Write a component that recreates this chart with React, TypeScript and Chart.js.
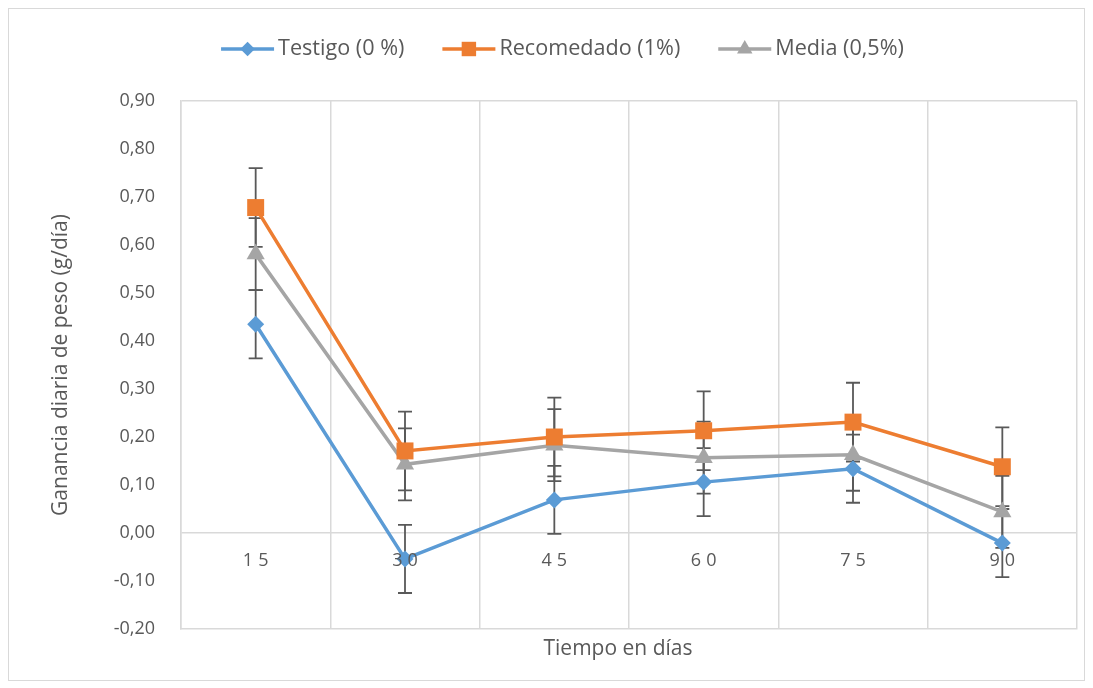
import React, { useEffect, useRef } from 'react';
import { Chart, registerables } from 'chart.js';

Chart.register(...registerables);

const categories = ['15', '30', '45', '60', '75', '90'];
const seriesNames = ['Testigo (0 %)', 'Recomedado (1%)', 'Media (0,5%)'];
const testigo = [0.435, -0.054, 0.069, 0.106, 0.134, -0.021];
const recomendado = [0.678, 0.171, 0.2, 0.213, 0.231, 0.138];
const media = [0.581, 0.143, 0.183, 0.157, 0.163, 0.044];
const errTestigo = [0.071, 0.071, 0.071, 0.071, 0.071, 0.071];
const errRecomendado = [0.082, 0.082, 0.082, 0.082, 0.082, 0.082];
const errMedia = [0.075, 0.075, 0.075, 0.075, 0.075, 0.075];
const yMin = -0.2;
const yMax = 0.9;
const yStep = 0.1;
const yTitle = 'Ganancia diaria de peso (g/día)';
const xTitle = 'Tiempo en días';

const FONT = '"Open Sans", "Liberation Sans", sans-serif';
const TEXT = '#595959';
const GRID = '#D9D9D9';
const colors = ['#5B9BD5', '#ED7D31', '#A5A5A5'];
const shapes = ['rectRot', 'rect', 'triangle'];
const radii = [8.5, 12, 10.5];
const errors = [errTestigo, errRecomendado, errMedia];
const FRAME_W = 1077;

function drawMarker(ctx: CanvasRenderingContext2D, shape: string, x: number, y: number, r: number, color: string) {
  ctx.save();
  ctx.fillStyle = color;
  ctx.beginPath();
  if (shape === 'rectRot') {
    ctx.moveTo(x - r, y);
    ctx.lineTo(x, y - r);
    ctx.lineTo(x + r, y);
    ctx.lineTo(x, y + r);
  } else if (shape === 'rect') {
    const s = r * Math.SQRT1_2;
    ctx.rect(x - s, y - s, 2 * s, 2 * s);
  } else {
    ctx.moveTo(x, y - r);
    ctx.lineTo(x + 0.866 * r, y + 0.5 * r);
    ctx.lineTo(x - 0.866 * r, y + 0.5 * r);
  }
  ctx.closePath();
  ctx.fill();
  ctx.restore();
}

const customPlugin = {
  id: 'custom',
  beforeDatasetsDraw(chart: any) {
    const ctx = chart.ctx;
    const yScale = chart.scales.y;
    ctx.save();
    ctx.strokeStyle = TEXT;
    ctx.lineWidth = 1.8;
    chart.data.datasets.forEach((ds: any, i: number) => {
      const meta = chart.getDatasetMeta(i);
      meta.data.forEach((pt: any, j: number) => {
        const v = ds.data[j];
        const e = errors[i][j];
        const yt = yScale.getPixelForValue(v + e);
        const yb = yScale.getPixelForValue(v - e);
        const x = pt.x;
        ctx.beginPath();
        ctx.moveTo(x, yt);
        ctx.lineTo(x, yb);
        ctx.moveTo(x - 7, yt);
        ctx.lineTo(x + 7, yt);
        ctx.moveTo(x - 7, yb);
        ctx.lineTo(x + 7, yb);
        ctx.stroke();
      });
    });
    ctx.restore();
  },
  afterDraw(chart: any) {
    const ctx = chart.ctx;
    const xScale = chart.scales.x;
    const yScale = chart.scales.y;
    ctx.save();
    ctx.strokeStyle = GRID;
    ctx.lineWidth = 1;
    ctx.strokeRect(0.5, 0.5, FRAME_W - 1, chart.height - 1);
    ctx.fillStyle = TEXT;
    ctx.font = `18px ${FONT}`;
    ctx.textBaseline = 'middle';
    ctx.textAlign = 'left';
    const sp = 5;
    (ctx as any).letterSpacing = `${sp}px`;
    const y0 = yScale.getPixelForValue(0) + 28;
    categories.forEach((c, i) => {
      const w = ctx.measureText(c).width - sp;
      const x = xScale.getPixelForValue(i);
      ctx.fillText(c, x - w / 2, y0);
    });
    (ctx as any).letterSpacing = '0px';
    ctx.font = `21px ${FONT}`;
    ctx.textAlign = 'center';
    ctx.fillText(xTitle, 610, 641);
    ctx.font = `21.6px ${FONT}`;
    const lineW = 53;
    const gapText = 4;
    const gapItem = 38;
    const widths = seriesNames.map((n) => ctx.measureText(n).width);
    const total = widths.reduce((s, w) => s + lineW + gapText + w, 0) + gapItem * (seriesNames.length - 1);
    let x = 554.5 - total / 2;
    const ly = 41;
    seriesNames.forEach((n, i) => {
      ctx.strokeStyle = colors[i];
      ctx.lineWidth = 3.5;
      ctx.beginPath();
      ctx.moveTo(x, ly);
      ctx.lineTo(x + lineW, ly);
      ctx.stroke();
      drawMarker(ctx, shapes[i], x + lineW / 2, ly, radii[i] * 0.85, colors[i]);
      ctx.fillStyle = TEXT;
      ctx.textAlign = 'left';
      ctx.textBaseline = 'middle';
      ctx.fillText(n, x + lineW + gapText, ly);
      x += lineW + gapText + widths[i] + gapItem;
    });
    ctx.restore();
  },
};

export default function App() {
  const ref = useRef<HTMLCanvasElement>(null);
  useEffect(() => {
    if (!ref.current) return;
    const seriesData = [testigo, recomendado, media];
    const chart = new Chart(ref.current, {
      type: 'line',
      data: {
        labels: categories,
        datasets: seriesNames.map((name, i) => ({
          label: name,
          data: seriesData[i],
          borderColor: colors[i],
          backgroundColor: colors[i],
          borderWidth: 3.5,
          pointStyle: shapes[i] as any,
          pointRadius: radii[i],
          pointBorderWidth: 0,
          pointBackgroundColor: colors[i],
          tension: 0,
          fill: false,
        })),
      },
      options: {
        animation: false,
        responsive: true,
        maintainAspectRatio: false,
        layout: { padding: { top: 93, right: 0, bottom: 0, left: 0 } },
        plugins: {
          legend: { display: false },
          tooltip: { enabled: false },
        },
        scales: {
          x: {
            offset: true,
            grid: { offset: true, color: GRID, lineWidth: 1.5, drawTicks: false },
            border: { display: true, color: GRID, width: 1.5 },
            ticks: { display: false },
            title: { display: false, text: xTitle },
            afterFit: (s: any) => {
              s.height = 52;
            },
          },
          y: {
            min: yMin,
            max: yMax,
            ticks: {
              stepSize: yStep,
              color: TEXT,
              font: { family: FONT, size: 18 },
              padding: 26,
              callback: (v: any) => (Math.round(Number(v) * 100) / 100).toFixed(2).replace('.', ','),
            },
            grid: {
              drawTicks: false,
              lineWidth: 1.5,
              color: (c: any) =>
                c.tick && (Math.abs(c.tick.value) < 1e-9 || Math.abs(c.tick.value - yMax) < 1e-9) ? GRID : 'rgba(0,0,0,0)',
            },
            border: { display: true, color: GRID, width: 1.5 },
            title: {
              display: true,
              text: yTitle,
              color: TEXT,
              font: { family: FONT, size: 21 },
              padding: { top: 40, bottom: 0 },
            },
            afterFit: (s: any) => {
              s.width = 173;
            },
          },
        },
      },
      plugins: [customPlugin],
    });
    return () => chart.destroy();
  }, []);
  return (
    <div style={{ position: 'relative', width: '1081px', height: '673px' }}>
      <canvas ref={ref} />
    </div>
  );
}
